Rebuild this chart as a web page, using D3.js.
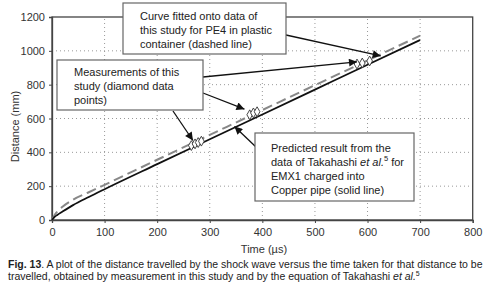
<!DOCTYPE html>
<html>
<head>
<meta charset="utf-8">
<script src="https://cdn.jsdelivr.net/npm/d3@7"></script>
<style>
  body { margin: 0; background: #fff; }
  svg { display: block; font-family: "Liberation Sans", Arial, sans-serif; }
</style>
</head>
<body>
<svg id="chart" width="487" height="290"></svg>
<script>
// solid line: predicted (Takahashi et al.)
const predTime = [0, 5, 10, 20, 40, 70, 100, 200, 300, 400, 500, 600, 700];
const predDist = [0, 18, 30, 50, 88, 136, 182, 330, 477, 624, 771, 918, 1064];
// dashed line: curve fitted to this study
const fitTime = [0, 5, 10, 20, 40, 70, 100, 200, 300, 400, 500, 600, 700];
const fitDist = [0, 30, 50, 78, 120, 164, 208, 356, 503, 650, 797, 943, 1090];
// diamonds: measurements
const measTime = [265, 272, 278, 284, 376, 383, 390, 580, 590, 604];
const measDist = [440, 450, 458, 466, 622, 633, 640, 922, 928, 940];

const xTicks = [0, 100, 200, 300, 400, 500, 600, 700, 800];
const yTicks = [0, 200, 400, 600, 800, 1000, 1200];

const margin = {top: 17, right: 14.3, bottom: 70, left: 52};
const W = 487, H = 290;

const svg = d3.select("#chart");
const x = d3.scaleLinear().domain([0, 800]).range([margin.left, W - margin.right]);
const y = d3.scaleLinear().domain([0, 1200]).range([H - margin.bottom, margin.top]);

// grid
svg.append("g").selectAll("line")
    .data(xTicks.slice(1, -1))
    .join("line")
    .attr("x1", d => x(d)).attr("x2", d => x(d))
    .attr("y1", y(0)).attr("y2", y(1200))
    .attr("stroke", "#999").attr("stroke-width", 1)
    .attr("stroke-dasharray", "1,3");
svg.append("g").selectAll("line")
    .data(yTicks.slice(1, -1))
    .join("line")
    .attr("x1", x(0)).attr("x2", x(800))
    .attr("y1", d => y(d)).attr("y2", d => y(d))
    .attr("stroke", "#999").attr("stroke-width", 1)
    .attr("stroke-dasharray", "1,3");

// frame
svg.append("rect")
    .attr("x", x(0)).attr("y", y(1200))
    .attr("width", x(800) - x(0)).attr("height", y(0) - y(1200))
    .attr("fill", "none").attr("stroke", "#444").attr("stroke-width", 1.3);

// axes
const xAxis = svg.append("g")
    .attr("transform", `translate(0,${y(0)})`)
    .call(d3.axisBottom(x).tickValues(xTicks).tickSize(3).tickPadding(5).tickFormat(d3.format("d")));
const yAxis = svg.append("g")
    .attr("transform", `translate(${x(0)},0)`)
    .call(d3.axisLeft(y).tickValues(yTicks).tickSize(3).tickPadding(4).tickFormat(d3.format("d")));
[xAxis, yAxis].forEach(a => {
    a.select(".domain").attr("stroke", "#444").attr("stroke-width", 1.3);
    a.selectAll(".tick line").attr("stroke", "#444");
    a.selectAll("text").attr("font-size", 11).attr("fill", "#333")
        .attr("font-family", "Liberation Sans, Arial, sans-serif");
});

svg.append("text")
    .attr("x", 264).attr("y", 253)
    .attr("text-anchor", "middle").attr("font-size", 11).attr("fill", "#333")
    .text("Time (µs)");
svg.append("text")
    .attr("transform", `translate(19,${(y(0) + y(1200)) / 2 + 8}) rotate(-90)`)
    .attr("text-anchor", "middle").attr("font-size", 11).attr("fill", "#333")
    .text("Distance (mm)");

// lines
const line = d3.line().x(d => x(d[0])).y(d => y(d[1])).curve(d3.curveMonotoneX);
svg.append("path")
    .datum(fitTime.map((t, i) => [t, fitDist[i]]))
    .attr("d", line)
    .attr("fill", "none").attr("stroke", "#888").attr("stroke-width", 2)
    .attr("stroke-dasharray", "10,5");
svg.append("path")
    .datum(predTime.map((t, i) => [t, predDist[i]]))
    .attr("d", line)
    .attr("fill", "none").attr("stroke", "#111").attr("stroke-width", 1.8);

// diamonds
svg.append("g").selectAll("path")
    .data(measTime.map((t, i) => [t, measDist[i]]))
    .join("path")
    .attr("transform", d => `translate(${x(d[0])},${y(d[1])})`)
    .attr("d", d3.symbol().type(d3.symbolDiamond).size(28))
    .attr("fill", "#fff").attr("stroke", "#333").attr("stroke-width", 0.9);

// annotations
const defs = svg.append("defs");
defs.append("marker")
    .attr("id", "arrow").attr("viewBox", "0 0 10 10")
    .attr("refX", 10).attr("refY", 5)
    .attr("markerWidth", 10).attr("markerHeight", 8)
    .attr("markerUnits", "userSpaceOnUse")
    .attr("orient", "auto")
    .append("path").attr("d", "M0,0 L10,5 L0,10 z").attr("fill", "#111");

// arrows: start in pixels (box edge), tip in data units
const arrows = [
    {from: [286, 35], to: [625, 970]},
    {from: [203, 77], to: [580, 935]},
    {from: [203, 93], to: [366, 655]},
    {from: [173, 111], to: [268, 470]},
    {from: [256, 147], to: [347, 553]}
];
svg.append("g").selectAll("line")
    .data(arrows)
    .join("line")
    .attr("x1", d => d.from[0]).attr("y1", d => d.from[1])
    .attr("x2", d => x(d.to[0])).attr("y2", d => y(d.to[1]))
    .attr("stroke", "#111").attr("stroke-width", 1.3)
    .attr("marker-end", "url(#arrow)");

const boxes = [
    {x: 123, y: 3, w: 163, h: 51, tx: 140, ty: 20,
     lines: ["Curve fitted onto data of", "this study for PE4 in plastic", "container (dashed line)"]},
    {x: 57, y: 60, w: 146, h: 50, tx: 74, ty: 75.5,
     lines: ["Measurements of this", "study (diamond data", "points)"]},
    {x: 255, y: 133, w: 159, h: 68, tx: 271, ty: 152,
     lines: ["Predicted result from the", null, "EMX1 charged into", "Copper pipe (solid line)"]}
];
boxes.forEach(b => {
    const g = svg.append("g");
    g.append("rect")
        .attr("x", b.x).attr("y", b.y).attr("width", b.w).attr("height", b.h)
        .attr("fill", "#fff").attr("stroke", "#666").attr("stroke-width", 1.2);
    b.lines.forEach((l, i) => {
        const t = g.append("text")
            .attr("x", b.tx).attr("y", b.ty + i * 14)
            .attr("font-size", 11).attr("fill", "#222");
        if (l === null) {
            t.append("tspan").text("data of Takahashi ");
            t.append("tspan").attr("font-style", "italic").text("et al.");
            t.append("tspan").attr("font-size", 7.5).attr("dy", -5).text("5");
            t.append("tspan").attr("dy", 5).text(" for");
        } else {
            t.text(l);
        }
    });
});

// caption
const cap1 = svg.append("text").attr("x", 8).attr("y", 268)
    .attr("font-size", 10.5).attr("fill", "#222");
cap1.append("tspan").attr("font-weight", "bold").text("Fig. 13");
cap1.append("tspan").text(". A plot of the distance travelled by the shock wave versus the time taken for that distance to be");
const cap2 = svg.append("text").attr("x", 8).attr("y", 280)
    .attr("font-size", 10.5).attr("fill", "#222");
cap2.append("tspan").text("travelled, obtained by measurement in this study and by the equation of Takahashi ");
cap2.append("tspan").attr("font-style", "italic").text("et al.");
cap2.append("tspan").attr("font-size", 7).attr("dy", -4).text("5");
</script>
</body>
</html>
